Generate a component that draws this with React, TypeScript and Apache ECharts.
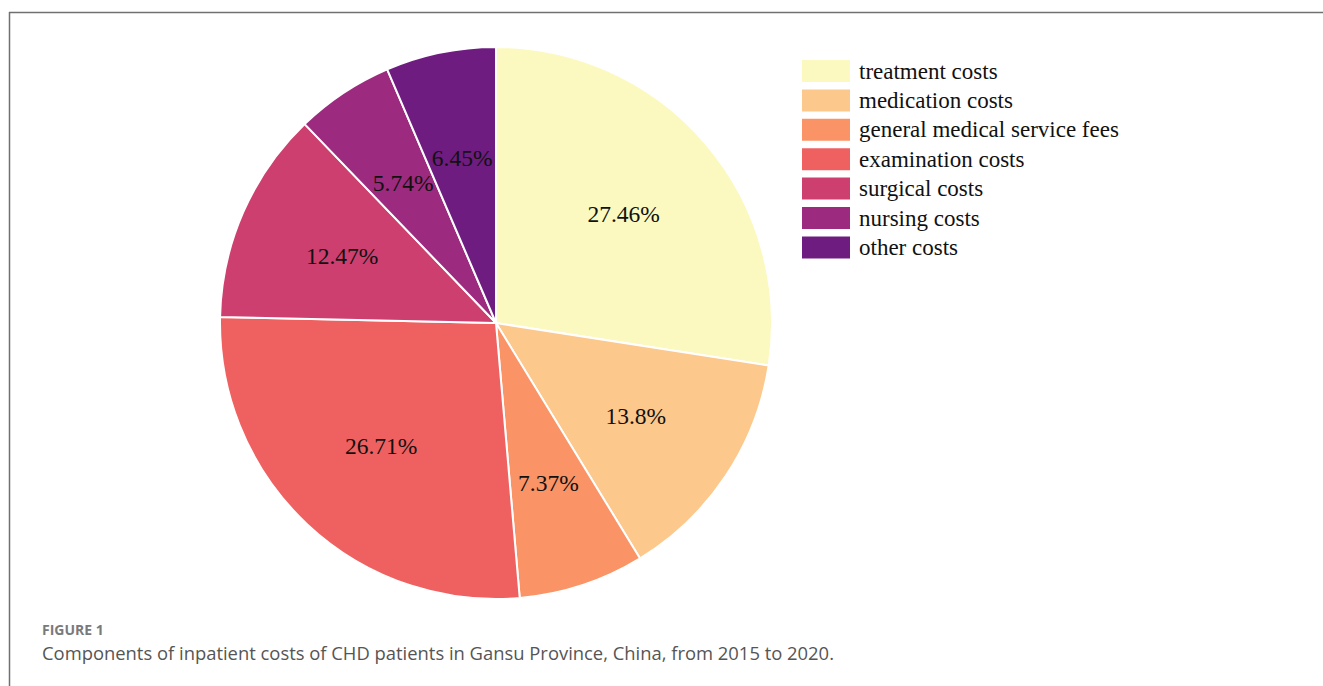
import React, { useEffect, useRef } from "react";
import * as echarts from "echarts";

const categories = [
  "treatment costs",
  "medication costs",
  "general medical service fees",
  "examination costs",
  "surgical costs",
  "nursing costs",
  "other costs",
];
const values = [27.46, 13.8, 7.37, 26.71, 12.47, 5.74, 6.45];
const colors = ["#FBF9BF", "#FCC88C", "#FA9366", "#EF6160", "#CD3F6F", "#9C2A7E", "#6E1C80"];
const figureLabel = "FIGURE 1";
const captionText = "Components of inpatient costs of CHD patients in Gansu Province, China, from 2015 to 2020.";

export default function App() {
  const ref = useRef<HTMLDivElement>(null);
  useEffect(() => {
    if (!ref.current) return;
    const chart = echarts.init(ref.current, null, { renderer: "svg" });
    const data = categories.map((name, i) => ({
      name,
      value: values[i],
      itemStyle: { color: colors[i] },
    }));
    chart.setOption({
      animation: false,
      color: colors,
      legend: {
        orient: "vertical",
        left: 800,
        top: 58,
        padding: 0,
        itemWidth: 50,
        itemHeight: 24,
        itemGap: 3.4,
        icon: "rect",
        data: categories,
        textStyle: {
          fontFamily: "Liberation Serif",
          fontSize: 23,
          color: "#111",
          lineHeight: 23,
          padding: [0, 0, 0, 3],
        },
      },
      series: [
        {
          type: "pie",
          center: [496, 323],
          radius: [0, 276],
          startAngle: 90,
          clockwise: true,
          data,
          label: { show: false },
          labelLine: { show: false },
          itemStyle: { borderColor: "#fff", borderWidth: 2 },
          emphasis: { disabled: true },
          silent: true,
        },
        {
          type: "pie",
          center: [496, 323],
          radius: [54, 276],
          startAngle: 90,
          clockwise: true,
          data: categories.map((name, i) => ({ name, value: values[i] })),
          itemStyle: { color: "transparent", borderWidth: 0 },
          label: {
            show: true,
            position: "inside",
            formatter: (p: any) => p.value + "%",
            fontFamily: "Liberation Serif",
            fontSize: 23.5,
            color: "#111",
          },
          labelLine: { show: false },
          emphasis: { disabled: true },
          silent: true,
        },
      ],
      graphic: [
        {
          type: "line",
          shape: { x1: 9, y1: 12.5, x2: 1323, y2: 12.5 },
          style: { stroke: "#707070", lineWidth: 1.5 },
        },
        {
          type: "line",
          shape: { x1: 9.5, y1: 12, x2: 9.5, y2: 686 },
          style: { stroke: "#707070", lineWidth: 1.5 },
        },
        {
          type: "text",
          left: 42,
          top: 622,
          style: {
            text: figureLabel,
            fontFamily: "Open Sans",
            fontWeight: "bold",
            fontSize: 14,
            fill: "#7a7a7a",
          },
        },
        {
          type: "text",
          left: 42,
          top: 643,
          style: {
            text: captionText,
            fontFamily: "Open Sans",
            fontSize: 18.4,
            fill: "#555",
          },
        },
      ],
    });
    return () => chart.dispose();
  }, []);
  return (
    <div
      ref={ref}
      style={{ position: "fixed", left: 0, top: 0, width: 1323, height: 686, background: "#fff" }}
    />
  );
}
